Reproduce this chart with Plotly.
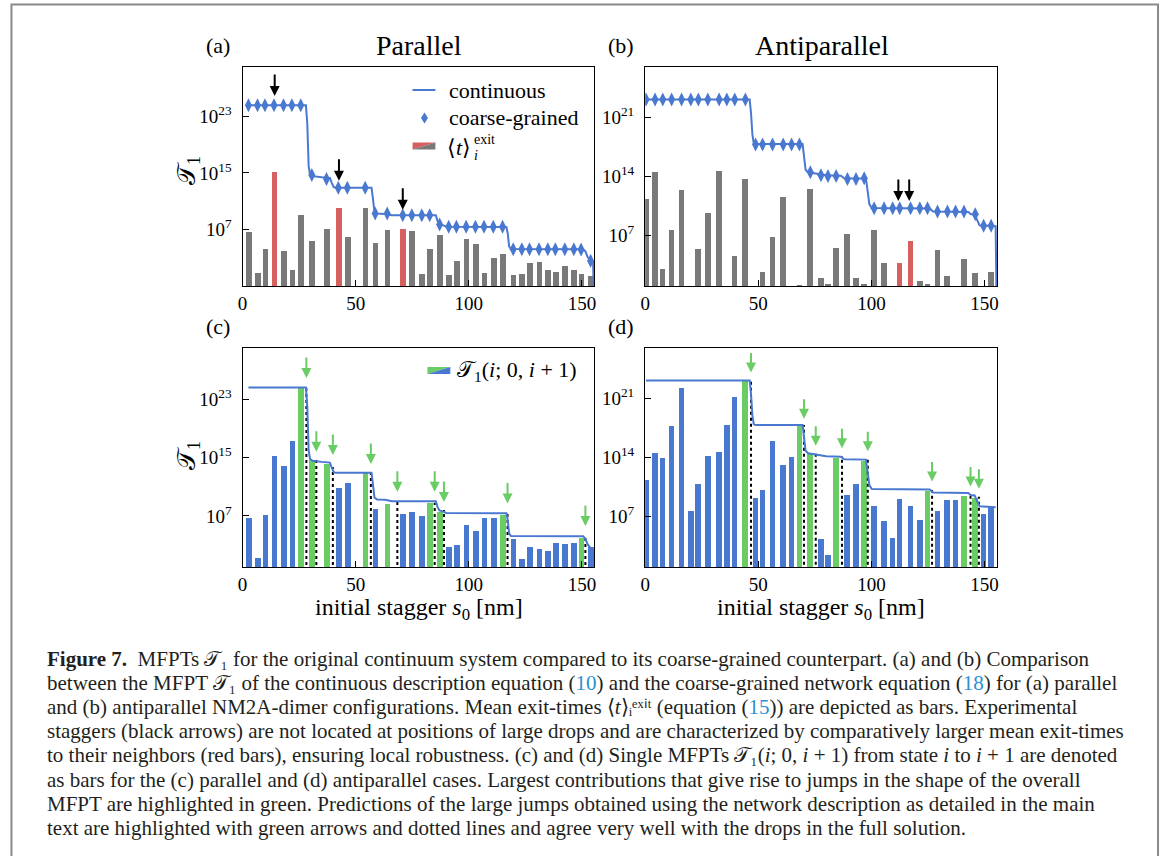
import plotly.graph_objects as go

W, H = 1165, 856

# ---------------- data ----------------
# Parallel configuration: positions of coarse-grained states [nm]
par_x = [2.6, 6.6, 9.9, 13.9, 18.1, 21.8, 25.7, 30.6, 37.1, 42.3, 46.3, 54.2, 58.6, 63.9,
         70.8, 74.8, 79.2, 82.7, 87.1, 91.1, 94.5, 98.8, 102.9, 106.7, 110.8, 114.9,
         119.6, 123.4, 126.8, 131.0, 134.9, 138.2, 142.4, 146.4, 149.6, 153.8]
# log10 of mean exit times <t>_i^exit (panel a)
par_exit_log = [6.6, 0.83, 4.3, 15.2, 3.96, 1.3, 9.0, 5.3, 7.1, 10.1, 6.0, 10.1, 5.1, 6.9,
                7.1, 6.8, 0.7, 4.2, 6.2, 0.55, 2.6, 5.7, 5.0, 0.9, 2.9, 3.5,
                0.55, 0.7, 2.2, 2.4, 1.3, 1.0, 1.8, 1.2, 0.7, 0.45]
# log10 of coarse-grained MFPT (panel a diamonds)
par_cg_log = [24.6, 24.6, 24.6, 24.6, 24.6, 24.6, 24.6, 14.7, 14.15, 12.9, 12.9, 12.9,
              9.25, 9.25, 9.0, 9.0, 9.0, 9.0, 7.7, 7.37, 7.37, 7.37, 7.37, 7.37, 7.37, 7.37,
              4.2, 4.2, 4.2, 4.2, 4.2, 4.2, 4.2, 4.2, 4.15, 2.56]
# log10 of single MFPTs T1(i;0,i+1) (panel c)
par_single_log = [6.7, 1.2, 7.1, 15.25, 13.9, 17.3, 24.6, 14.6, 14.1, 10.8, 11.5, 12.9,
                  7.9, 8.65, 7.3, 7.55, 6.95, 8.8, 7.6, 2.7, 3.0, 5.7, 5.0, 6.7, 6.7, 7.15,
                  3.8, 1.1, 2.7, 2.45, 2.2, 3.25, 3.1, 3.25, 4.0, 2.7]
par_red_idx = [3, 9, 14]
par_green_idx = [6, 7, 8, 11, 13, 17, 18, 25, 34]
# continuous MFPT (panels a, c)
par_line_x = [2.6, 28.0, 28.6, 29.2, 29.8, 31.0, 35.0, 38.6, 39.4, 40.3, 41.2,
              57.0, 57.6, 58.3, 59.5, 63.0, 66.0, 85.4, 86.2, 87.0, 89.0, 90.0,
              116.6, 117.2, 117.8, 118.6, 150.5, 151.5, 152.5, 153.8, 154.9]
par_line_log = [24.6, 24.6, 22.0, 16.0, 14.8, 14.55, 14.4, 14.3, 13.6, 13.0, 12.9,
                12.9, 11.4, 9.5, 9.25, 9.2, 9.0, 9.0, 8.2, 7.75, 7.55, 7.4,
                7.35, 6.4, 4.6, 4.25, 4.2, 3.9, 3.1, 2.6, 2.4]
par_line_end_x, par_line_end_log = 155.3, -3.0
# experimental staggers (black arrows, panel a)
par_stagger_x = [14.2, 42.6, 70.8]
par_stagger_tip_log = [25.9, 13.9, 9.8]
# predicted jumps (green arrows + dotted lines, panel c)
par_jump_x = [28.2, 32.6, 39.9, 56.7, 68.4, 84.9, 89.0, 117.1, 151.5]
par_jump_top_log = [24.6, 14.66, 13.7, 12.9, 8.9, 8.8, 7.8, 7.4, 4.0]
par_jump_tip_log = [25.9, 15.8, 15.35, 14.1, 10.3, 10.3, 8.9, 8.7, 5.6]

# Antiparallel configuration
anti_x = [0.4, 4.4, 7.8, 11.7, 16.1, 20.2, 23.5, 27.7, 32.7, 36.1, 39.6, 44.3,
          48.8, 51.9, 56.3, 61.0, 64.7, 68.2, 73.0, 77.7, 80.8, 84.4, 89.4, 93.2, 96.8,
          101.2, 105.6, 109.4, 112.5, 117.3, 121.4, 124.8, 129.2, 133.6, 137.2, 140.9,
          145.9, 149.6, 152.9]
anti_exit_log = [11.3, 14.55, 3.05, 7.67, 12.4, 0.5, 5.4, 9.7, 14.7, 0.5, 4.6, 13.75,
                 0.5, 2.7, 6.85, 11.6, 0.5, 1.15, 12.5, 1.9, 1.27, 5.5, 7.2, 1.9, 1.27,
                 7.67, 3.75, 0.5, 3.75, 6.4, 1.6, 1.27, 5.3, 2.2, 0.5, 4.2, 2.6, 0.5, 2.7]
anti_cg_log = [23.15, 23.15, 23.15, 23.15, 23.15, 23.15, 23.15, 23.15, 23.15,
               23.15, 23.15, 23.15, 17.8, 17.8, 17.8, 17.8, 17.8, 17.8,
               14.5, 14.15, 14.05, 14.05, 13.7, 13.7, 13.8,
               10.24, 10.24, 10.24, 10.24, 10.24, 10.24, 10.24, 9.85, 9.85, 9.85, 9.85,
               9.53, 8.15, 8.15]
anti_single_log = [11.35, 14.5, 14.0, 17.7, 22.2, 7.65, 10.8, 14.2, 14.7, 17.8, 21.2, 23.1,
                   9.2, 10.15, 16.0, 13.1, 14.1, 17.7, 14.4, 4.3, 2.4, 13.9, 9.55, 10.8, 13.6,
                   8.2, 6.5, 4.5, 9.1, 8.2, 6.55, 10.0, 7.65, 8.95, 8.95, 9.4, 9.2, 7.3, 8.1]
anti_red_idx = [28, 29]
anti_green_idx = [11, 17, 18, 21, 24, 31, 35, 36]
anti_line_x = [0.4, 46.2, 46.8, 47.4, 48.0, 49.0, 69.6, 70.2, 70.9, 72.0, 76.0, 80.0,
               86.5, 88.0, 97.6, 98.3, 99.1, 100.2, 125.8, 127.2, 142.8, 143.8, 145.6,
               146.8, 147.8, 154.9]
anti_line_log = [23.15, 23.15, 21.5, 19.0, 17.95, 17.85, 17.85, 16.5, 14.8, 14.5, 14.35, 14.15,
                 14.1, 13.8, 13.75, 12.5, 10.7, 10.25, 10.2, 9.85, 9.8, 9.55, 9.5,
                 8.8, 8.2, 8.1]
anti_line_end_x, anti_line_end_log = 155.4, -3.0
anti_stagger_x = [111.9, 116.7]
anti_stagger_tip_log = [11.1, 11.1]
anti_jump_x = [46.8, 70.2, 75.4, 87.0, 98.4, 126.8, 143.8, 147.5]
anti_jump_top_log = [23.2, 17.85, 14.55, 14.15, 13.75, 10.15, 9.75, 9.35]
anti_jump_tip_log = [24.1, 18.6, 15.4, 15.1, 14.75, 11.15, 10.55, 10.3]

x_ticks = [0, 50, 100, 150]
par_ytick_exp = [7, 15, 23]
anti_ytick_exp = [7, 14, 21]

# ---------------- styling ----------------
BLUE = "#4878D0"
GREEN = "#6ACC64"
RED = "#D65F5F"
GRAY = "#797979"
SERIF = "Liberation Serif"
LINK = "#2b8fd4"

boxes = {"a": (239, 593, 67, 286), "b": (644, 998, 67, 286),
         "c": (239, 593, 348, 567), "d": (644, 998, 348, 567)}
yranges = {"a": [-1, 30], "b": [1, 27], "c": [0, 30], "d": [1, 27]}
axid = {"a": "", "b": "2", "c": "3", "d": "4"}


def px(x):
    return x / W


def py(y):
    return 1 - y / H


fig = go.Figure()


def pw(v):
    return [10.0 ** e for e in v]


def add_bars(panel, xs, logs, base_color, hi_idx, hi_color):
    cols = [hi_color if i in hi_idx else base_color for i in range(len(xs))]
    fig.add_trace(go.Bar(x=xs, y=pw(logs), width=2.5, marker=dict(color=cols, line=dict(width=0)),
                         xaxis="x" + axid[panel], yaxis="y" + axid[panel], showlegend=False))


def add_line(panel, xs, logs):
    fig.add_trace(go.Scatter(x=xs, y=pw(logs), mode="lines", line=dict(color=BLUE, width=2),
                             xaxis="x" + axid[panel], yaxis="y" + axid[panel], showlegend=False))


def add_dotted(panel, xs, tops):
    lx, ly = [], []
    for x, t in zip(xs, tops):
        lx += [x, x, None]
        ly += [1e-3, 10.0 ** t, None]
    fig.add_trace(go.Scatter(x=lx, y=ly, mode="lines", line=dict(color="black", width=2, dash="dot"),
                             xaxis="x" + axid[panel], yaxis="y" + axid[panel], showlegend=False))


annotations = []


def add_arrows(panel, xs, tips, color, length):
    for x, t in zip(xs, tips):
        annotations.append(dict(x=x, y=t, xref="x" + axid[panel], yref="y" + axid[panel],
                                ax=0, ay=-length, text="", showarrow=True, arrowhead=2,
                                arrowsize=1.0, arrowwidth=2, arrowcolor=color))


# panel a
add_bars("a", par_x, par_exit_log, GRAY, par_red_idx, RED)
add_line("a", par_line_x + [par_line_end_x], par_line_log + [par_line_end_log])
fig.add_trace(go.Scatter(x=par_x, y=pw(par_cg_log), mode="markers",
                         marker=dict(symbol="diamond-tall", size=10, color=BLUE),
                         xaxis="x", yaxis="y", showlegend=False))
add_arrows("a", par_stagger_x, par_stagger_tip_log, "black", 23)

# panel b
add_bars("b", anti_x, anti_exit_log, GRAY, anti_red_idx, RED)
add_line("b", anti_line_x + [anti_line_end_x], anti_line_log + [anti_line_end_log])
fig.add_trace(go.Scatter(x=anti_x, y=pw(anti_cg_log), mode="markers",
                         marker=dict(symbol="diamond-tall", size=10, color=BLUE),
                         xaxis="x2", yaxis="y2", showlegend=False))
add_arrows("b", anti_stagger_x, anti_stagger_tip_log, "black", 23)

# panel c
add_bars("c", par_x, par_single_log, BLUE, par_green_idx, GREEN)
add_dotted("c", par_jump_x, par_jump_top_log)
add_line("c", par_line_x, par_line_log)
add_arrows("c", par_jump_x, par_jump_tip_log, GREEN, 22)

# panel d
add_bars("d", anti_x, anti_single_log, BLUE, anti_green_idx, GREEN)
add_dotted("d", anti_jump_x, anti_jump_top_log)
add_line("d", anti_line_x, anti_line_log)
add_arrows("d", anti_jump_x, anti_jump_tip_log, GREEN, 21)

layout = dict(width=W, height=H, margin=dict(l=0, r=0, t=0, b=0),
              plot_bgcolor="white", paper_bgcolor="white", bargap=0, showlegend=False,
              font=dict(family=SERIF, color="black"))

for p, (x0, x1, y0, y1) in boxes.items():
    exps = par_ytick_exp if p in ("a", "c") else anti_ytick_exp
    layout["xaxis" + axid[p]] = dict(
        domain=[px(x0), px(x1)], range=[0, 155.5], anchor="y" + axid[p],
        showgrid=False, zeroline=False, showline=True, mirror=True, linecolor="black",
        linewidth=1.3, ticks="inside", ticklen=6, tickwidth=1.3, tickcolor="black",
        tickvals=x_ticks, ticktext=[str(t) for t in x_ticks],
        tickfont=dict(family=SERIF, size=19, color="black"), ticklabelstandoff=0)
    layout["yaxis" + axid[p]] = dict(
        domain=[py(y1), py(y0)], type="log", range=yranges[p], anchor="x" + axid[p],
        showgrid=False, zeroline=False, showline=True, mirror=True, linecolor="black",
        linewidth=1.3, ticks="inside", ticklen=6, tickwidth=1.3, tickcolor="black",
        tickvals=[10.0 ** e for e in exps], ticktext=["10<sup>%d</sup>" % e for e in exps],
        tickfont=dict(family=SERIF, size=19, color="black"), ticklabelstandoff=6)


def txt(x, y, s, size, xanchor="center", yanchor="middle", angle=0, color="black"):
    annotations.append(dict(x=px(x), y=py(y), xref="paper", yref="paper", text=s,
                            showarrow=False, xanchor=xanchor, yanchor=yanchor,
                            textangle=angle, font=dict(family=SERIF, size=size, color=color)))


# panel labels and titles
txt(214, 46, "(a)", 22)
txt(417, 46, "Parallel", 28)
txt(620, 46, "(b)", 22)
txt(822, 46, "Antiparallel", 28)
txt(214, 326, "(c)", 22)
txt(620, 326, "(d)", 22)
# axis labels
T1 = "𝒯<sub>1</sub>"
txt(184, 170, T1, 26, angle=-90)
txt(184, 455, T1, 26, angle=-90)
txt(416, 609, "initial stagger <i>s</i><sub>0</sub> [nm]", 24)
txt(821, 609, "initial stagger <i>s</i><sub>0</sub> [nm]", 24)

# legend a
txt(445, 90, "continuous", 22, xanchor="left")
txt(445, 118, "coarse-grained", 22, xanchor="left")
txt(443, 147, "⟨<i>t</i>⟩", 22, xanchor="left")
txt(470, 139, "exit", 14, xanchor="left")
txt(470, 155, "<i>i</i>", 14, xanchor="left")
# legend c
txt(453, 371, T1 + "(<i>i</i>; 0, <i>i</i> + 1)", 22, xanchor="left")

# caption (unicode sub/superscripts keep each line at a single text height)
T1u = "𝒯₁"
lk = "<span style='color:" + LINK + "'>%s</span>"
cap = [
    "<b>Figure 7.</b>  MFPTs " + T1u + " for the original continuum system compared to its coarse-grained counterpart. (a) and (b) Comparison",
    "between the MFPT " + T1u + " of the continuous description equation (" + lk % "10" + ") and the coarse-grained network equation (" + lk % "18" + ") for (a) parallel",
    "and (b) antiparallel NM2A-dimer configurations. Mean exit-times ⟨<i>t</i>⟩ᵢᵉˣⁱᵗ (equation (" + lk % "15" + ")) are depicted as bars. Experimental",
    "staggers (black arrows) are not located at positions of large drops and are characterized by comparatively larger mean exit-times",
    "to their neighbors (red bars), ensuring local robustness. (c) and (d) Single MFPTs " + T1u + "(<i>i</i>; 0, <i>i</i> + 1) from state <i>i</i> to <i>i</i> + 1 are denoted",
    "as bars for the (c) parallel and (d) antiparallel cases. Largest contributions that give rise to jumps in the shape of the overall",
    "MFPT are highlighted in green. Predictions of the large jumps obtained using the network description as detailed in the main",
    "text are highlighted with green arrows and dotted lines and agree very well with the drops in the full solution.",
]
for k, line in enumerate(cap):
    txt(40, 659 + 24.1 * k, line, 21, xanchor="left", color="#231f20")

layout["annotations"] = annotations

shapes = []
# outer frame
shapes.append(dict(type="rect", xref="paper", yref="paper", x0=px(6.5), x1=px(1160), y0=py(870), y1=py(4.5),
                   line=dict(color="#8a8a8a", width=2), fillcolor="rgba(0,0,0,0)", layer="below"))
# legend a: line sample
shapes.append(dict(type="line", xref="paper", yref="paper", x0=px(410), x1=px(433), y0=py(90), y1=py(90),
                   line=dict(color=BLUE, width=2)))
# legend a: diamond
cx, cy = 422, 118
shapes.append(dict(type="path", xref="paper", yref="paper",
                   path="M %f,%f L %f,%f L %f,%f L %f,%f Z" % (px(cx), py(cy - 5.5), px(cx + 3.5), py(cy),
                                                              px(cx), py(cy + 5.5), px(cx - 3.5), py(cy)),
                   fillcolor=BLUE, line=dict(width=0)))


def split_patch(x0, x1, y0, y1, c1, c2):
    shapes.append(dict(type="path", xref="paper", yref="paper",
                       path="M %f,%f L %f,%f L %f,%f Z" % (px(x0), py(y0), px(x1), py(y0), px(x0), py(y1)),
                       fillcolor=c1, line=dict(width=0)))
    shapes.append(dict(type="path", xref="paper", yref="paper",
                       path="M %f,%f L %f,%f L %f,%f Z" % (px(x1), py(y0), px(x1), py(y1), px(x0), py(y1)),
                       fillcolor=c2, line=dict(width=0)))


split_patch(410, 433, 142.5, 149.5, RED, GRAY)
split_patch(425, 448, 367, 374, GREEN, BLUE)
layout["shapes"] = shapes

fig.update_layout(**layout)
fig.write_html("out.html")
